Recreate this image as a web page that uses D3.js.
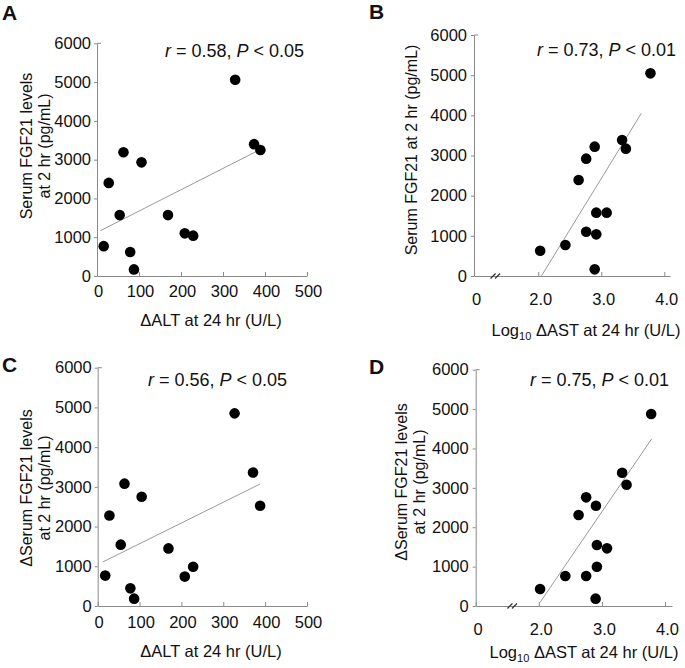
<!DOCTYPE html>
<html><head><meta charset="utf-8">
<script src="https://cdn.jsdelivr.net/npm/d3@7"></script>
<style>
body{margin:0;background:#fff}
text{font-family:Arial,"Liberation Sans",sans-serif;fill:#111}
</style>
</head><body>
<svg id="c" width="685" height="668"></svg>
<script>
// ---------- data ----------
const yTicks = [0, 1000, 2000, 3000, 4000, 5000, 6000];
const altTicks = [0, 100, 200, 300, 400, 500];
const astTicks = [2.0, 3.0, 4.0];

// Panel A: ΔALT vs serum FGF21
const altA = [16, 28, 54, 63, 79, 88, 106, 169, 209, 229, 329, 374, 389];
const fgfA = [770, 2400, 1570, 3190, 620, 170, 2930, 1570, 1100, 1040, 5060, 3400, 3250];
const fitAx = [8, 397], fitAy = [1168, 3307];

// Panel B: log10 ΔAST vs serum FGF21
const astB = [2.03, 2.43, 2.64, 2.76, 2.76, 2.895, 2.92, 2.92, 2.895, 3.085, 3.33, 3.39, 3.78];
const fgfB = [630, 772, 2390, 2921, 1103, 3220, 1577, 1037, 166, 1577, 3386, 3170, 5045];
const fitBx = [2.05, 3.635], fitBy = [0, 4050];

// Panel C: ΔALT vs Δserum FGF21
const altC = [18, 28, 55, 64, 78, 87, 105, 169, 208, 228, 327, 371, 388];
const dfgfC = [765, 2280, 1545, 3080, 445, 185, 2750, 1450, 740, 990, 4850, 3360, 2525];
const fitCx = [12, 388], fitCy = [1108, 3072];

// Panel D: log10 ΔAST vs Δserum FGF21
const astD = [2.02, 2.42, 2.63, 2.75, 2.75, 2.905, 2.92, 2.92, 2.90, 3.08, 3.32, 3.39, 3.78];
const dfgfD = [432, 762, 2310, 2759, 762, 2547, 1549, 998, 186, 1464, 3385, 3080, 4874];
const fitDx = [2.02, 3.79], fitDy = [94, 4248];

const stats = [
  {r: "0.58", p: "0.05"},
  {r: "0.73", p: "0.01"},
  {r: "0.56", p: "0.05"},
  {r: "0.75", p: "0.01"}
];
const letters = ["A", "B", "C", "D"];

// ---------- drawing ----------
const svg = d3.select("#c");
const AX = "#8a8a8a";
const FONT = "Arial, 'Liberation Sans', sans-serif";

const panels = [
  {L: letters[0], xs: altA, ys: fgfA, fx: fitAx, fy: fitAy, st: stats[0],
   xr: [97, 307], yr: [276, 43.3], xd: [0, 500], ticks: altTicks, log: false,
   letter: [2, 20], ann: [165, 57], ytitle: ["Serum FGF21 levels", "at 2 hr (pg/mL)"], yt: [32, 50, 146],
   xtitle: [211, 326], tickPad: 9.5},
  {L: letters[1], xs: astB, ys: fgfB, fx: fitBx, fy: fitBy, st: stats[1],
   xr: [474, 670], yr: [276, 35], xd: [0.98, 4.09], ticks: astTicks, log: true, brk: 1.33,
   letter: [369, 19], ann: [537, 56], ytitle: ["Serum FGF21 at 2 hr (pg/mL)"], yt: [417, 0, 150],
   xtitle: [586, 336], tickPad: 17},
  {L: letters[2], xs: altC, ys: dfgfC, fx: fitCx, fy: fitCy, st: stats[2],
   xr: [97.7, 307], yr: [606, 367.7], xd: [0, 500], ticks: altTicks, log: false,
   letter: [2, 372], ann: [148, 386], ytitle: ["\u0394Serum FGF21 levels", "at 2 hr (pg/mL)"], yt: [32, 50, 488],
   xtitle: [211, 657], tickPad: 10},
  {L: letters[3], xs: astD, ys: dfgfD, fx: fitDx, fy: fitDy, st: stats[3],
   xr: [475.7, 672], yr: [606, 369.7], xd: [1.0, 4.11], ticks: astTicks, log: true, brk: 1.59,
   letter: [369, 374], ann: [530, 386], ytitle: ["\u0394Serum FGF21 levels", "at 2 hr (pg/mL)"], yt: [407, 425, 482],
   xtitle: [584, 658], tickPad: 17}
];

panels.forEach(p => {
  const x = d3.scaleLinear().domain(p.xd).range(p.xr);
  const y = d3.scaleLinear().domain([0, 6000]).range(p.yr);
  const g = svg.append("g");

  // y axis
  const ya = g.append("g").attr("transform", `translate(${p.xr[0]},0)`)
    .call(d3.axisLeft(y).tickValues(yTicks).tickFormat(d3.format("d"))
      .tickSizeInner(3).tickSizeOuter(0).tickPadding(p.log ? 4 : 3));
  ya.selectAll("path,line").attr("stroke", AX);
  ya.selectAll("text").style("font-size", "16.5px").style("font-family", FONT).attr("fill", "#111");
  ya.append("line").attr("x1", 0).attr("x2", 4).attr("y1", y(6000)).attr("y2", y(6000)).attr("stroke", AX);

  // x axis
  const tv = p.log ? [p.xd[0]].concat(p.ticks) : p.ticks;
  const xa = g.append("g").attr("transform", `translate(0,${p.yr[0]})`)
    .call(d3.axisBottom(x).tickValues(tv).tickSizeInner(-4).tickSizeOuter(0).tickPadding(p.tickPad)
      .tickFormat(d => p.log ? (d === p.xd[0] ? "0" : d3.format(".1f")(d)) : d3.format("d")(d)));
  xa.selectAll("path,line").attr("stroke", AX);
  xa.selectAll("text").style("font-size", "16.5px").style("font-family", FONT)
    .attr("fill", "#111").attr("dx", p.log ? 2 : 1);

  // axis break
  if (p.log) {
    const bx = x(p.brk), by = p.yr[0];
    [-3, 1.5].forEach(o => {
      g.append("line").attr("x1", bx + o - 2.5).attr("y1", by + 2.5).attr("x2", bx + o + 2.5).attr("y2", by - 2.5)
        .attr("stroke", "#333").attr("stroke-width", 1.2);
    });
  }

  // fit line
  g.append("line")
    .attr("x1", x(p.fx[0])).attr("y1", y(p.fy[0]))
    .attr("x2", x(p.fx[1])).attr("y2", y(p.fy[1]))
    .attr("stroke", "#9a9a9a").attr("stroke-width", 1);

  // points
  g.selectAll("circle.pt").data(p.xs.map((v, i) => [v, p.ys[i]])).enter()
    .append("circle").attr("class", "pt")
    .attr("cx", d => x(d[0])).attr("cy", d => y(d[1])).attr("r", 5.3).attr("fill", "#000");

  // panel letter
  svg.append("text").attr("x", p.letter[0]).attr("y", p.letter[1])
    .style("font-size", "21px").style("font-weight", "bold").text(p.L);

  // annotation
  const an = svg.append("text").attr("x", p.ann[0]).attr("y", p.ann[1]).style("font-size", "18px");
  an.append("tspan").style("font-style", "italic").text("r");
  an.append("tspan").text(" = " + p.st.r + ", ");
  an.append("tspan").style("font-style", "italic").text("P");
  an.append("tspan").text(" < " + p.st.p);

  // y title
  p.ytitle.forEach((t, i) => {
    svg.append("text")
      .attr("transform", `translate(${p.yt[i]},${p.yt[2]}) rotate(-90)`)
      .attr("text-anchor", "middle").style("font-size", "16px").text(t);
  });

  // x title
  const xt = svg.append("text").attr("x", p.xtitle[0]).attr("y", p.xtitle[1])
    .attr("text-anchor", "middle").style("font-size", "16.5px");
  if (p.log) {
    xt.append("tspan").text("Log");
    xt.append("tspan").attr("dy", 4).style("font-size", "11px").text("10");
    xt.append("tspan").attr("dy", -4).text(" \u0394AST at 24 hr (U/L)");
  } else {
    xt.text("\u0394ALT at 24 hr (U/L)");
  }
});
</script>
</body></html>
